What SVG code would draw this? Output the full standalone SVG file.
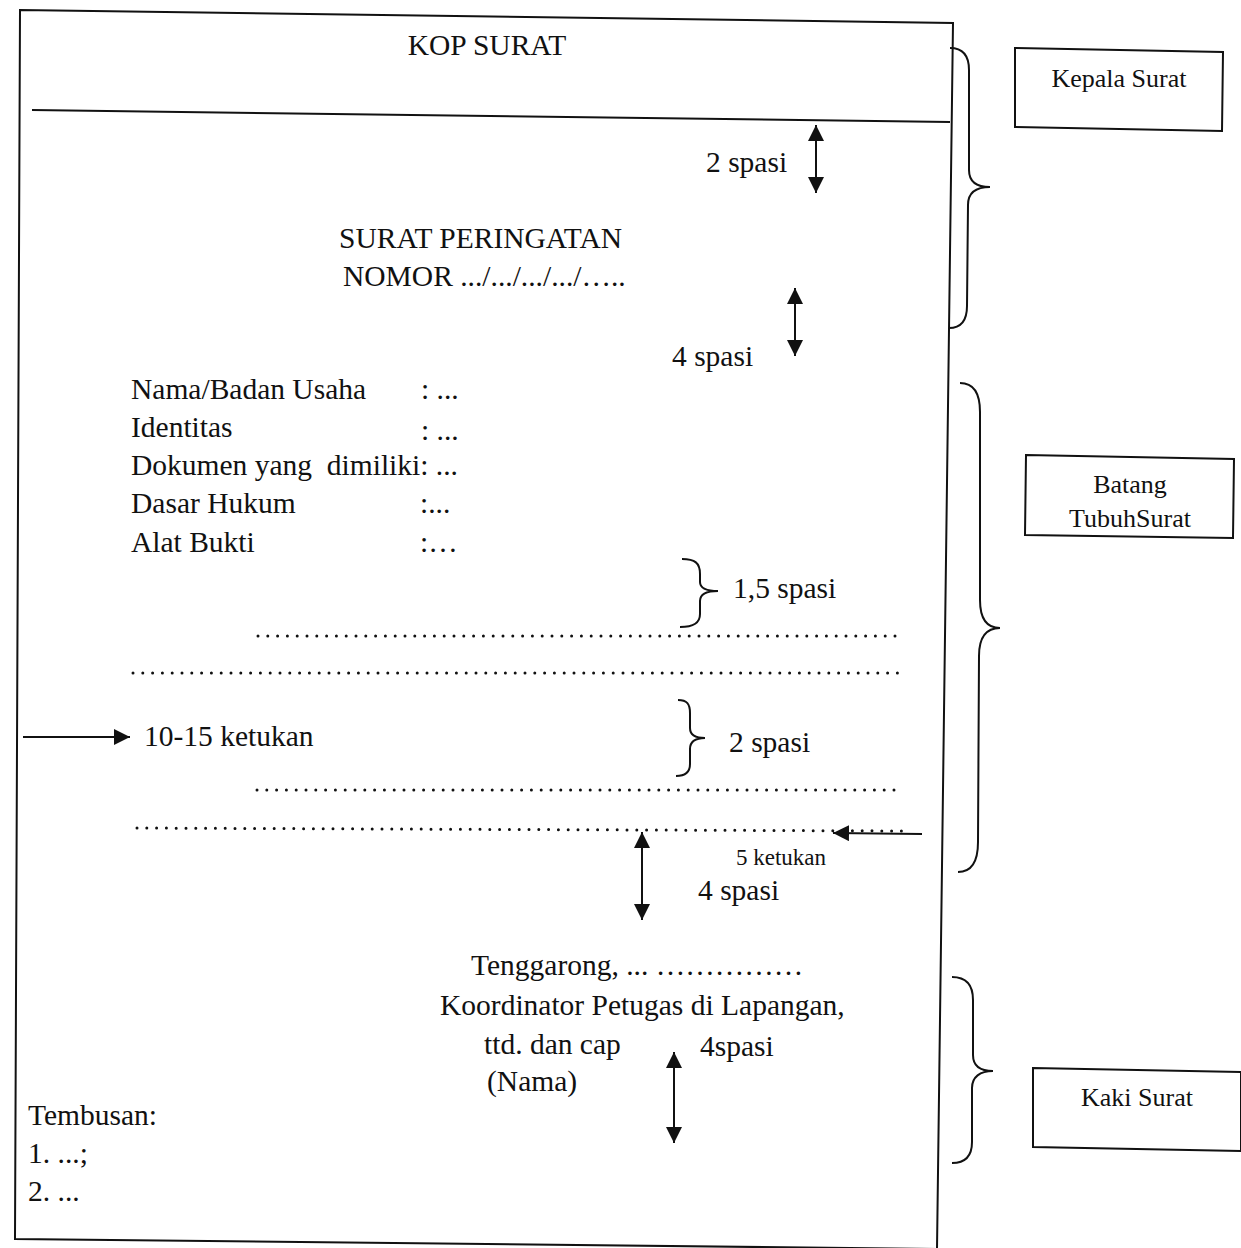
<svg xmlns="http://www.w3.org/2000/svg" width="1241" height="1248" viewBox="0 0 1241 1248">
<defs>
<style>
text{font-family:"Liberation Serif","Times New Roman",serif;fill:#111;white-space:pre}
.b{font-size:29.5px}
.s{font-size:26px}
.xs{font-size:23px}
.ln{fill:none;stroke:#111;stroke-width:2}
.br{fill:none;stroke:#111;stroke-width:2}
.dot{fill:none;stroke:#111;stroke-width:3;stroke-linecap:round;stroke-dasharray:0 9.8}
.arr{fill:none;stroke:#111;stroke-width:2}
</style>
<marker id="ah" viewBox="0 0 10 10" refX="10" refY="5" markerWidth="16" markerHeight="16" markerUnits="userSpaceOnUse" orient="auto-start-reverse">
<path d="M0,0 L10,5 L0,10 z" fill="#111"/>
</marker>
</defs>
<rect width="1241" height="1248" fill="#fff"/>

<g id="page">
<polygon class="ln" points="20,10 953,23 937,1249 15,1239"/>
<line class="ln" x1="32" y1="110" x2="950" y2="122"/>
</g>

<g id="kop"><text class="b" x="487" y="55" text-anchor="middle">KOP SURAT</text></g>
<g id="judul">
<text class="b" x="339" y="248">SURAT PERINGATAN</text>
<text class="b" x="343" y="286">NOMOR .../.../.../.../…..</text>
</g>
<g id="spasi-labels">
<text class="b" x="706" y="172">2 spasi</text>
<text class="b" x="672" y="366">4 spasi</text>
<text class="b" x="733" y="598">1,5 spasi</text>
<text class="b" x="729" y="752">2 spasi</text>
<text class="xs" x="736" y="865">5 ketukan</text>
<text class="b" x="698" y="900">4 spasi</text>
<text class="b" x="144" y="746">10-15 ketukan</text>
<text class="b" x="700" y="1056">4spasi</text>
</g>
<g id="identitas">
<text class="b" x="131" y="399">Nama/Badan Usaha</text>
<text class="b" x="421" y="399">: ...</text>
<text class="b" x="131" y="437">Identitas</text>
<text class="b" x="421" y="440">: ...</text>
<text class="b" x="131" y="475">Dokumen yang  dimiliki: ...</text>
<text class="b" x="131" y="513">Dasar Hukum</text>
<text class="b" x="420" y="513">:...</text>
<text class="b" x="131" y="552">Alat Bukti</text>
<text class="b" x="420" y="552">:…</text>
</g>
<g id="isi">
<line class="dot" x1="258" y1="636" x2="898" y2="636"/>
<line class="dot" x1="133" y1="673" x2="900" y2="673"/>
<line class="dot" x1="257" y1="790" x2="896" y2="790"/>
<line class="dot" x1="137" y1="828" x2="906" y2="831"/>
</g>
<g id="penutup">
<text class="b" x="471" y="975">Tenggarong, ... ……………</text>
<text class="b" x="440" y="1015">Koordinator Petugas di Lapangan,</text>
<text class="b" x="484" y="1054">ttd. dan cap</text>
<text class="b" x="487" y="1091">(Nama)</text>
</g>
<g id="tembusan">
<text class="b" x="28" y="1125">Tembusan:</text>
<text class="b" x="28" y="1163">1. ...;</text>
<text class="b" x="28" y="1201">2. ...</text>
</g>

<g id="connectors">
<line class="arr" x1="816" y1="125" x2="816" y2="193" marker-start="url(#ah)" marker-end="url(#ah)"/>
<line class="arr" x1="795" y1="288" x2="795" y2="356" marker-start="url(#ah)" marker-end="url(#ah)"/>
<line class="arr" x1="642" y1="832" x2="642" y2="920" marker-start="url(#ah)" marker-end="url(#ah)"/>
<line class="arr" x1="674" y1="1052" x2="674" y2="1143" marker-start="url(#ah)" marker-end="url(#ah)"/>
<line class="arr" x1="23" y1="737" x2="130" y2="737" marker-end="url(#ah)"/>
<line class="arr" x1="922" y1="834" x2="833" y2="833" marker-end="url(#ah)"/>
<path class="br" d="M682,559 C695,559 700,563 700,574 L700,582 C700,588 706,591 718,591 C706,591 700,594 700,601 L700,614 C700,623 694,627 680,627"/>
<path class="br" d="M678,700 C687,700 690,704 690,713 L690,728 C690,734 695,738 705,738 C695,738 690,742 690,749 L690,764 C690,772 686,776 676,776"/>
<path class="br" d="M950,48 C963,48 969,55 969,70 L969,170 C969,181 976,187 990,187 C976,187 968,193 968,205 L967,306 C967,321 961,328 949,328"/>
<path class="br" d="M960,383 C973,383 980,393 980,412 L980,600 C980,618 986,628 1000,628 C986,628 979,638 979,656 L978,842 C978,862 972,872 958,872"/>
<path class="br" d="M952,977 C966,977 973,985 973,1000 L973,1055 C973,1066 980,1071 993,1071 C980,1071 972,1077 972,1088 L972,1142 C972,1156 966,1163 952,1163"/>
</g>

<g id="kepala-surat">
<polygon class="ln" points="1015,48 1223,52 1222,131 1015,127"/>
<text class="s" x="1119" y="87" text-anchor="middle">Kepala Surat</text>
</g>
<g id="batang-tubuh">
<polygon class="ln" points="1026,455 1234,459 1233,538 1025,535"/>
<text class="s" x="1130" y="493" text-anchor="middle">Batang</text>
<text class="s" x="1130" y="527" text-anchor="middle">TubuhSurat</text>
</g>
<g id="kaki-surat">
<polygon class="ln" points="1033,1068 1241,1072 1241,1151 1033,1147"/>
<text class="s" x="1137" y="1106" text-anchor="middle">Kaki Surat</text>
</g>
</svg>
